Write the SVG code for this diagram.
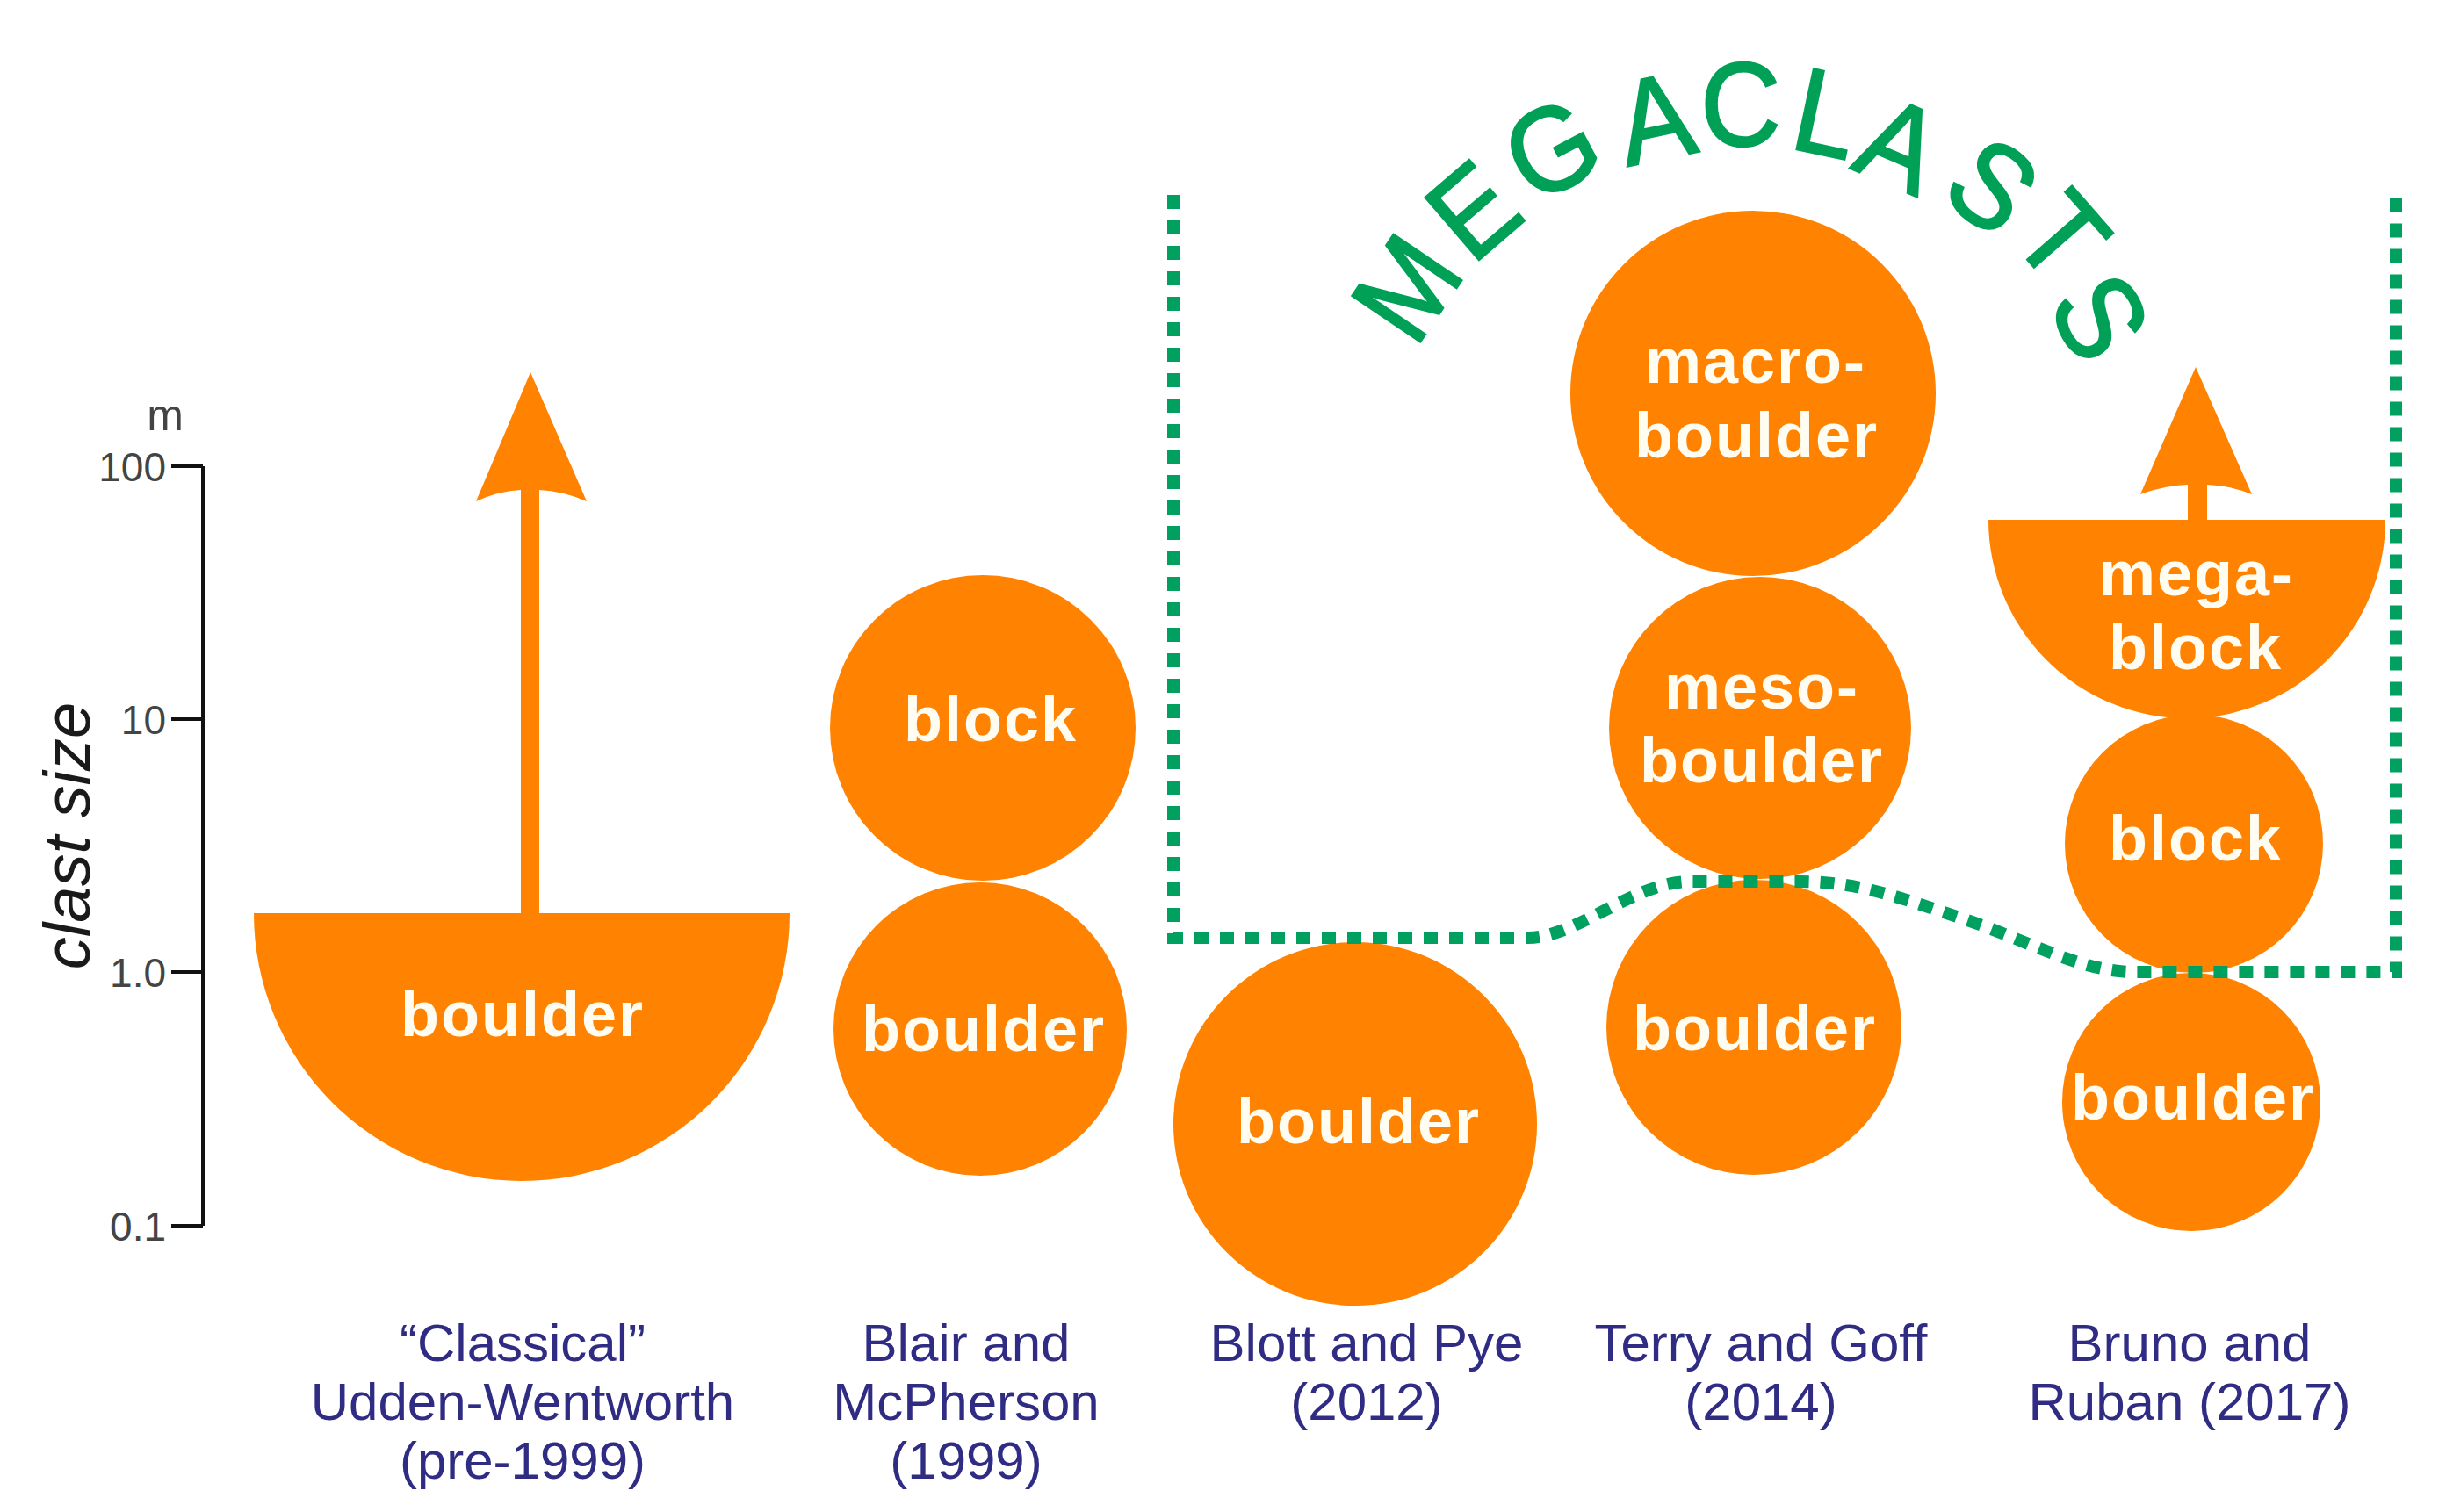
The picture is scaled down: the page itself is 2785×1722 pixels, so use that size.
<svg xmlns="http://www.w3.org/2000/svg" width="2785" height="1722" viewBox="0 0 2785 1722">
<style>
.or{fill:#ff8200}
.lbl{font-family:"Liberation Sans",Arial,sans-serif;font-weight:bold;font-size:72px;fill:#fffdf2;text-anchor:middle;letter-spacing:2px}
.ref{font-family:"Liberation Sans",Arial,sans-serif;font-size:60px;fill:#302c84;text-anchor:middle}
.tk{font-family:"Liberation Sans",Arial,sans-serif;font-size:46px;fill:#444;text-anchor:end}
.mega{font-family:"Liberation Sans",Arial,sans-serif;font-size:136px;fill:#00a057;stroke:#00a057;stroke-width:2.5;text-anchor:middle}
.axis{stroke:#111;stroke-width:4;fill:none}
.dots{stroke:#00a060;stroke-width:14;fill:none;stroke-dasharray:16 13}
</style>
<rect width="2785" height="1722" fill="#ffffff"/>

<g id="axis">
  <path class="axis" d="M231,531 V1396 M195,531 H231 M195,819 H231 M195,1107 H231 M195,1396 H231"/>
  <text x="188" y="490" font-family="Liberation Sans,Arial,sans-serif" font-size="50" fill="#444" text-anchor="middle">m</text>
  <text class="tk" x="189" y="548">100</text>
  <text class="tk" x="189" y="836">10</text>
  <text class="tk" x="189" y="1124">1.0</text>
  <text class="tk" x="189" y="1413">0.1</text>
  <text transform="translate(102,952) rotate(-90)" font-family="Liberation Sans,Arial,sans-serif" font-style="italic" font-size="74" fill="#1a1a1a" text-anchor="middle">clast size</text>
</g>

<g id="classical">
  <path class="or" d="M289,1040 H899 A305,305 0 0 1 289,1040 Z"/>
  <rect class="or" x="593" y="555" width="21" height="490"/>
  <path class="or" d="M604,424 L668,571 Q640,559 614,558 H593 Q568,559 542,571 Z"/>
  <text class="lbl" x="595" y="1180">boulder</text>
</g>

<g id="blair">
  <circle class="or" cx="1119" cy="829" r="174"/>
  <circle class="or" cx="1116" cy="1172" r="167"/>
  <text class="lbl" x="1128" y="844">block</text>
  <text class="lbl" x="1120" y="1197">boulder</text>
</g>

<g id="blott">
  <circle class="or" cx="1543" cy="1280" r="207"/>
  <text class="lbl" x="1547" y="1302">boulder</text>
</g>

<g id="terry">
  <circle class="or" cx="1996" cy="448" r="208"/>
  <circle class="or" cx="2004" cy="829" r="172"/>
  <circle class="or" cx="1997" cy="1170" r="168"/>
  <text class="lbl" x="1999" y="436">macro-</text>
  <text class="lbl" x="2000" y="521">boulder</text>
  <text class="lbl" x="2006" y="807">meso-</text>
  <text class="lbl" x="2006" y="891">boulder</text>
  <text class="lbl" x="1998" y="1196">boulder</text>
</g>

<g id="bruno">
  <path class="or" d="M2264,592 H2716 A226,226 0 0 1 2264,592 Z"/>
  <rect class="or" x="2491" y="550" width="22" height="46"/>
  <path class="or" d="M2500,418 L2564,563 Q2540,553 2513,552 H2491 Q2464,553 2437,563 Z"/>
  <circle class="or" cx="2498" cy="961" r="147"/>
  <circle class="or" cx="2495" cy="1255" r="147"/>
  <text class="lbl" x="2501" y="678">mega-</text>
  <text class="lbl" x="2500" y="762">block</text>
  <text class="lbl" x="2500" y="980">block</text>
  <text class="lbl" x="2497" y="1275">boulder</text>
</g>

<g id="connectors">
  <path class="dots" d="M1336,222 V1068 H1740 C1795,1068 1860,1004 1925,1004 H2050 C2120,1004 2170,1025 2240,1048 C2310,1072 2370,1107 2430,1107 H2728 V222"/>
</g>

<g id="megaclasts-title">
  <text class="mega" transform="translate(1600,327) rotate(-56) scale(0.93,1)" y="49">M</text>
  <text class="mega" transform="translate(1676,238) rotate(-40.7) scale(0.93,1)" y="49">E</text>
  <text class="mega" transform="translate(1766,168) rotate(-27.8) scale(0.93,1)" y="49">G</text>
  <text class="mega" transform="translate(1884,133) rotate(-11.7) scale(0.93,1)" y="49">A</text>
  <text class="mega" transform="translate(1982,117) rotate(0) scale(0.93,1)" y="49">C</text>
  <text class="mega" transform="translate(2080,127) rotate(12) scale(0.93,1)" y="49">L</text>
  <text class="mega" transform="translate(2164,163) rotate(23.3) scale(0.93,1)" y="49">A</text>
  <text class="mega" transform="translate(2270,210) rotate(38.1) scale(0.93,1)" y="49">S</text>
  <text class="mega" transform="translate(2349,268) rotate(48.9) scale(0.93,1)" y="49">T</text>
  <text class="mega" transform="translate(2393,360) rotate(60.7) scale(0.93,1)" y="49">S</text>
</g>

<g id="references">
  <text class="ref" x="595" y="1550">“Classical”</text>
  <text class="ref" x="595" y="1617">Udden-Wentworth</text>
  <text class="ref" x="595" y="1684">(pre-1999)</text>
  <text class="ref" x="1100" y="1550">Blair and</text>
  <text class="ref" x="1100" y="1617">McPherson</text>
  <text class="ref" x="1100" y="1684">(1999)</text>
  <text class="ref" x="1556" y="1550">Blott and Pye</text>
  <text class="ref" x="1556" y="1617">(2012)</text>
  <text class="ref" x="2005" y="1550">Terry and Goff</text>
  <text class="ref" x="2005" y="1617">(2014)</text>
  <text class="ref" x="2493" y="1550">Bruno and</text>
  <text class="ref" x="2493" y="1617">Ruban (2017)</text>
</g>
</svg>
